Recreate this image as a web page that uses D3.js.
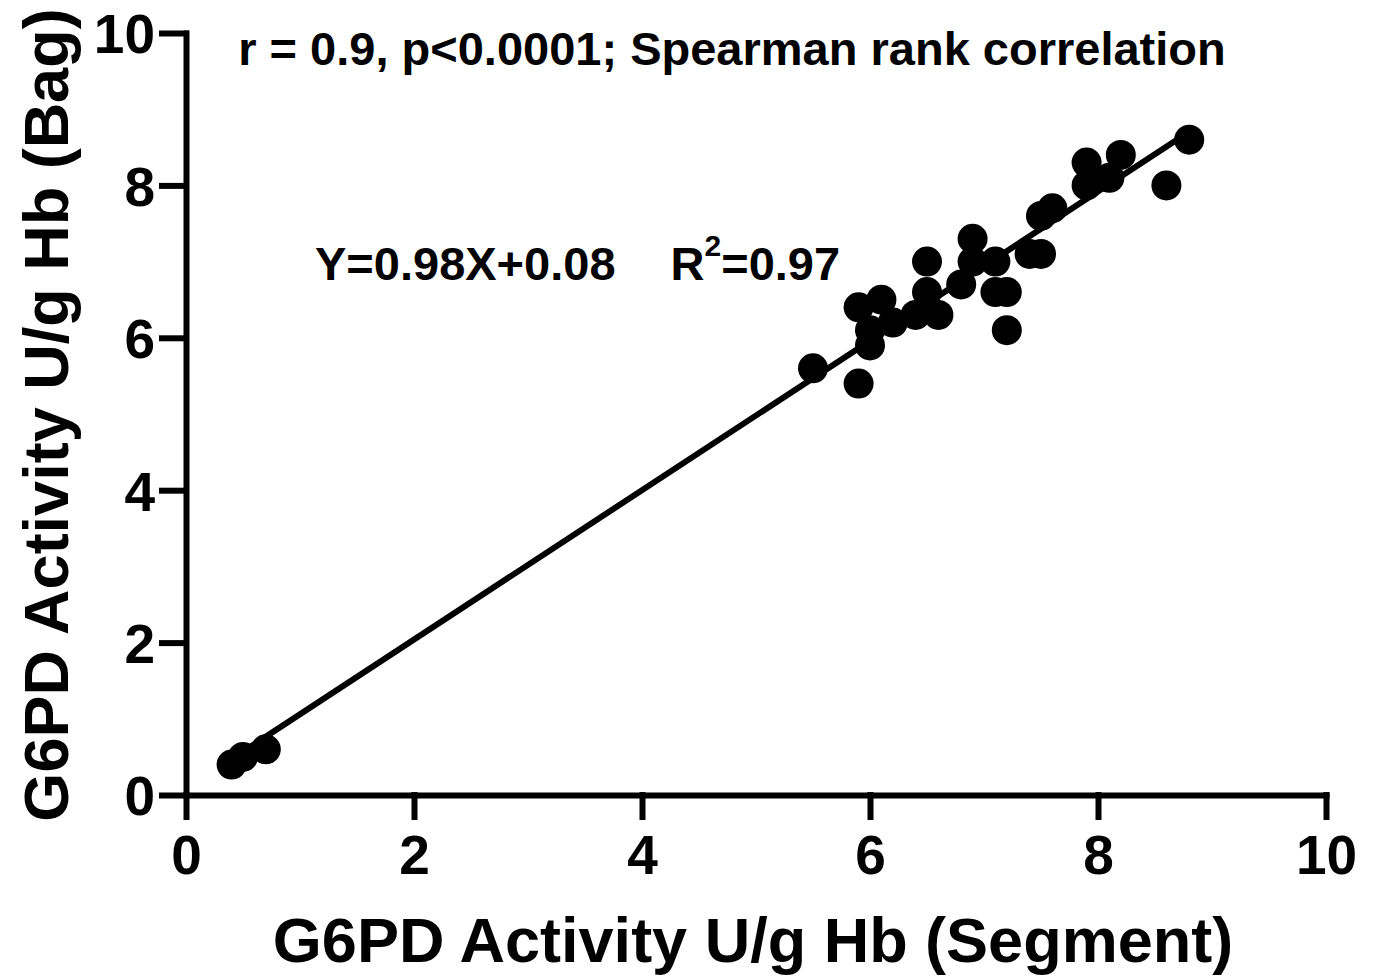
<!DOCTYPE html>
<html>
<head>
<meta charset="utf-8">
<script src="https://cdn.jsdelivr.net/npm/d3@7"></script>
<style>
  body { margin: 0; background: #fff; }
  text { font-family: "Liberation Sans", Arial, sans-serif; font-weight: bold; fill: #000; }
</style>
</head>
<body>
<div id="chart"></div>
<script>
// data (segment vs bag)
var segment = [0.4, 0.5, 0.7, 5.5, 5.9, 5.9, 6.0, 6.0, 6.1, 6.2, 6.4, 6.5, 6.5, 6.6, 6.8, 6.9, 6.9, 7.1, 7.1, 7.2, 7.2, 7.4, 7.5, 7.5, 7.6, 7.9, 7.9, 8.1, 8.2, 8.6, 8.8];
var bag     = [0.4, 0.5, 0.6, 5.6, 5.4, 6.4, 5.9, 6.1, 6.5, 6.2, 6.3, 7.0, 6.6, 6.3, 6.7, 7.3, 7.0, 7.0, 6.6, 6.6, 6.1, 7.1, 7.1, 7.6, 7.7, 8.3, 8.0, 8.1, 8.4, 8.0, 8.6];
var xTicks = [0, 2, 4, 6, 8, 10];
var yTicks = [0, 2, 4, 6, 8, 10];
var slope = 0.98, intercept = 0.08;

var margin = {top: 33, right: 50, bottom: 184, left: 186},
    width = 1376 - margin.left - margin.right,
    height = 979 - margin.top - margin.bottom;

var x = d3.scaleLinear().domain([0, 10]).range([0, width]);
var y = d3.scaleLinear().domain([0, 10]).range([height, 0]);

var svg = d3.select("#chart").append("svg")
    .attr("width", 1376)
    .attr("height", 979)
  .append("g")
    .attr("transform", "translate(" + margin.left + "," + margin.top + ")");

// axes
var xAxis = svg.append("g")
    .attr("transform", "translate(0," + height + ")")
    .call(d3.axisBottom(x).tickValues(xTicks).tickSize(22).tickSizeOuter(0).tickPadding(18).tickFormat(d3.format("d")));
var yAxis = svg.append("g")
    .call(d3.axisLeft(y).tickValues(yTicks).tickSize(24).tickSizeOuter(0).tickPadding(7).tickFormat(d3.format("d")));

[xAxis, yAxis].forEach(function(a) {
  a.selectAll("path, line").attr("stroke", "#000").attr("stroke-width", 6).attr("stroke-linecap", "square");
  a.selectAll("text").style("font-size", "55px").style("font-family", "'Liberation Sans', Arial, sans-serif").style("font-weight", "bold");
});
yAxis.selectAll("text").attr("dy", "0.36em");

// regression line
var xr = d3.extent(segment);
svg.append("line")
    .attr("x1", x(xr[0])).attr("y1", y(slope * xr[0] + intercept))
    .attr("x2", x(xr[1])).attr("y2", y(slope * xr[1] + intercept))
    .attr("stroke", "#000").attr("stroke-width", 6);

// points
svg.selectAll("circle")
    .data(segment)
  .enter().append("circle")
    .attr("cx", function(d) { return x(d); })
    .attr("cy", function(d, i) { return y(bag[i]); })
    .attr("r", 15)
    .attr("fill", "#000");

// annotations
svg.append("text")
    .attr("x", 546).attr("y", 32)
    .attr("text-anchor", "middle")
    .style("font-size", "47px")
    .text("r = 0.9, p<0.0001; Spearman rank correlation");

var eq = svg.append("text")
    .attr("x", 129).attr("y", 247)
    .style("font-size", "47px");
eq.append("tspan").text("Y=0.98X+0.08");
eq.append("tspan").attr("dx", 55).text("R");
eq.append("tspan").attr("dy", -24).style("font-size", "30px").text("2");
eq.append("tspan").attr("dy", 24).text("=0.97");

// axis titles
svg.append("text")
    .attr("x", 567).attr("y", height + 167)
    .attr("text-anchor", "middle")
    .style("font-size", "63px")
    .text("G6PD Activity U/g Hb (Segment)");

svg.append("text")
    .attr("transform", "translate(-118," + (415 - margin.top) + ") rotate(-90)")
    .attr("text-anchor", "middle")
    .style("font-size", "63px")
    .text("G6PD Activity U/g Hb (Bag)");
</script>
</body>
</html>
